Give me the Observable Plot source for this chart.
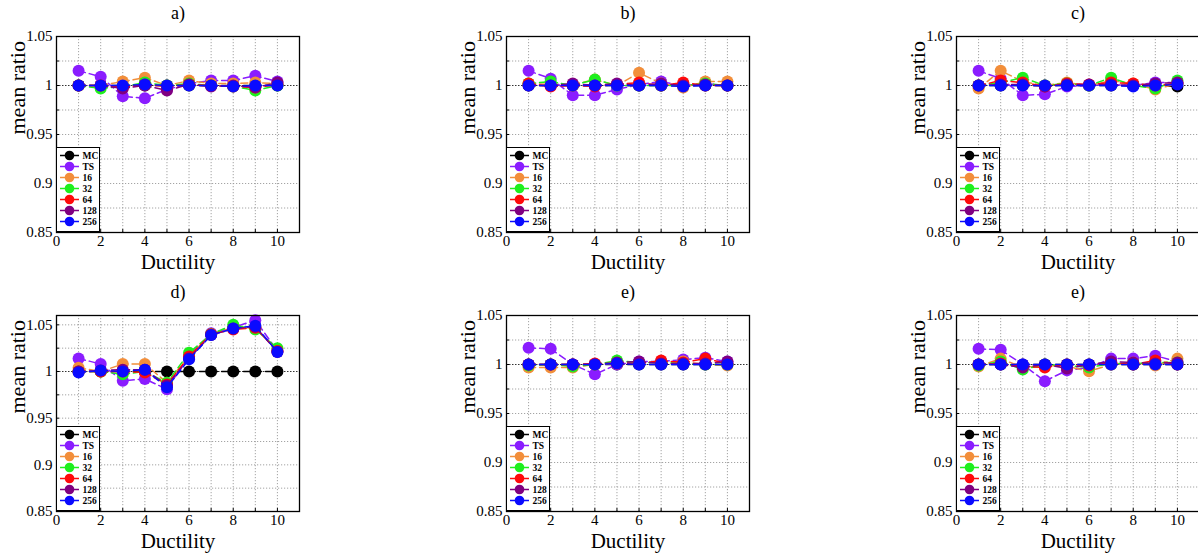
<!DOCTYPE html>
<html><head><meta charset="utf-8">
<script src="https://cdn.jsdelivr.net/npm/d3@7"></script>
<script src="https://cdn.jsdelivr.net/npm/@observablehq/plot@0.6"></script>
<style>
html,body{margin:0;padding:0;background:#fff;}
#root{position:relative;width:1198px;height:554px;overflow:hidden;background:#fff;}
.panel{position:absolute;width:311px;height:276px;}
.panel svg, .legend svg{max-width:none !important;}
svg text{font-family:"Liberation Serif","DejaVu Serif","Noto Serif","Times New Roman",Times,serif !important;}
.legend{position:absolute;width:44px;height:85px;border:1.5px solid #000;box-sizing:border-box;background:#fff;}
</style></head><body><div id="root"></div>
<script>
const ductility = [1,2,3,4,5,6,7,8,9,10];
const seriesNames = ["MC","TS","16","32","64","128","256"];
const seriesColors = ["#000000","#8A1CFF","#F28E3A","#1EEF1E","#FF0A0A","#800080","#0A0AFF"];
const panelTitles = ["a)","b)","c)","d)","e)","e)"];
const xTickLabels = [0,2,4,6,8,10];
const yTickLabels = [0.85,0.9,0.95,1,1.05];

// panel a
const aMC  = [1,1,1,1,1,1,1,1,1,1];
const aTS  = [1.015,1.009,0.989,0.987,0.996,1.002,1.005,1.005,1.010,1.004];
const a16  = [1.000,1.000,1.004,1.008,1.000,1.005,1.002,1.002,1.003,1.002];
const a32  = [1.000,0.997,0.999,1.003,1.000,1.002,1.000,0.999,0.995,1.000];
const a64  = [1.000,1.000,0.998,1.001,0.999,1.001,1.000,0.999,0.998,1.001];
const a128 = [1.000,1.000,0.997,1.000,0.995,1.001,0.999,1.000,0.998,1.003];
const a256 = [1.000,1.000,1.000,1.001,1.000,1.000,1.000,0.999,1.000,1.000];
// panel b
const bMC  = [1,1,1,1,1,1,1,1,1,1];
const bTS  = [1.015,1.007,0.990,0.990,0.996,1.001,1.004,1.000,1.002,1.000];
const b16  = [1.002,1.001,1.001,1.006,1.000,1.013,1.002,0.998,1.004,1.004];
const b32  = [1.002,1.004,1.000,1.006,1.000,1.000,1.000,1.000,1.002,1.000];
const b64  = [1.002,0.999,1.000,0.999,1.001,1.003,1.000,1.003,1.000,1.000];
const b128 = [1.000,1.000,1.002,1.000,1.002,1.000,1.002,1.000,1.001,1.000];
const b256 = [1.000,1.000,1.000,1.000,1.000,1.000,1.000,0.999,1.000,1.000];
// panel c
const cMC  = [1,1,1,1,1,1,1,1,1,0.999];
const cTS  = [1.015,1.007,0.990,0.991,0.999,1.000,1.001,1.000,1.003,1.003];
const c16  = [0.997,1.015,1.004,1.000,1.003,1.000,1.005,1.002,0.996,1.002];
const c32  = [1.000,1.003,1.008,1.000,1.002,1.000,1.008,1.000,0.997,1.005];
const c64  = [1.000,1.005,1.003,0.999,1.002,1.001,1.003,1.002,1.000,1.002];
const c128 = [1.000,1.001,1.001,0.999,1.001,1.001,1.001,1.000,1.002,1.003];
const c256 = [1.000,1.000,1.000,1.000,1.000,1.000,1.000,0.999,1.000,1.001];
// panel d
const dMC  = [1,1,1,1,1,1,1,1,1,1];
const dTS  = [1.014,1.008,0.990,0.992,0.981,1.017,1.041,1.047,1.055,1.022];
const d16  = [1.004,1.000,1.008,1.008,0.988,1.016,1.040,1.047,1.047,1.022];
const d32  = [1.000,1.000,0.997,1.000,0.988,1.020,1.040,1.050,1.045,1.025];
const d64  = [1.000,1.000,1.000,0.999,0.986,1.016,1.040,1.045,1.047,1.022];
const d128 = [1.000,1.001,1.002,1.002,0.985,1.014,1.039,1.046,1.048,1.021];
const d256 = [0.999,1.001,1.000,1.002,0.983,1.013,1.039,1.046,1.049,1.021];
// panel e
const eMC  = [1,1,1,1,1,1,1,1,1,1];
const eTS  = [1.017,1.016,1.000,0.990,1.000,1.003,1.003,1.005,1.007,1.003];
const e16  = [0.997,0.997,0.997,1.000,1.001,1.002,1.002,1.003,1.000,0.999];
const e32  = [0.999,1.000,0.998,1.000,1.004,1.002,1.002,1.001,1.000,1.000];
const e64  = [1.000,1.000,1.000,1.001,1.001,1.001,1.004,1.002,1.006,1.001];
const e128 = [1.000,1.000,1.000,1.000,1.002,1.003,1.001,1.001,1.001,1.003];
const e256 = [1.000,1.000,1.000,1.000,1.001,1.000,1.000,1.000,1.000,1.000];
// panel f (second "e)")
const fMC  = [1,1,1,1,1,1,1,1,1,1];
const fTS  = [1.016,1.015,1.000,0.983,0.994,0.997,1.006,1.006,1.009,1.003];
const f16  = [0.998,1.006,0.997,0.999,0.998,0.993,1.000,1.002,0.999,1.006];
const f32  = [0.999,1.003,0.995,1.000,0.999,0.997,1.001,1.001,1.002,1.002];
const f64  = [1.000,1.001,0.998,0.997,1.000,0.999,1.002,1.000,1.004,1.000];
const f128 = [1.000,1.000,0.997,1.000,0.996,1.000,1.003,1.002,1.001,1.002];
const f256 = [1.000,1.000,1.000,1.000,1.000,1.000,1.000,1.000,1.000,1.000];

const panelSeries = [
  [aMC,aTS,a16,a32,a64,a128,a256],
  [bMC,bTS,b16,b32,b64,b128,b256],
  [cMC,cTS,c16,c32,c64,c128,c256],
  [dMC,dTS,d16,d32,d64,d128,d256],
  [eMC,eTS,e16,e32,e64,e128,e256],
  [fMC,fTS,f16,f32,f64,f128,f256]
];
const yTops = [1.05,1.05,1.05,1.06,1.05,1.05];

const FONT = '"Liberation Serif","DejaVu Serif","Noto Serif","Times New Roman",Times,serif';
const root = document.getElementById("root");
const fmt = d => String(+(+d).toFixed(3));

panelSeries.forEach((vals, pi) => {
  const col = pi % 3, row = Math.floor(pi / 3);
  const left = col * 450, top = row === 0 ? 0 : 279;
  const rows = [];
  seriesNames.forEach((s, si) => vals[si].forEach((v, i) => rows.push({series: s, x: ductility[i], y: v})));
  const yGrid = d3.range(0.875, yTops[pi] + 1e-9, 0.025).map(v => +v.toFixed(3)).filter(v => Math.abs(v - 1) > 1e-9 && v < yTops[pi] - 1e-9);
  const yMinor = d3.range(0.85, yTops[pi] + 1e-9, 0.025).map(v => +v.toFixed(3));
  const marks = [
    Plot.gridX(d3.range(1, 11), {stroke: "#9a9a9a", strokeOpacity: 1, strokeDasharray: "1.2,1.8", strokeWidth: 0.9}),
    Plot.gridY(yGrid, {stroke: "#9a9a9a", strokeOpacity: 1, strokeDasharray: "1.2,1.8", strokeWidth: 0.9}),
    Plot.gridY([1], {stroke: "#333", strokeOpacity: 1, strokeDasharray: "1.5,1.5", strokeWidth: 1})
  ];
  seriesNames.forEach((s, si) => {
    const data = rows.filter(d => d.series === s);
    marks.push(Plot.line(data, {x: "x", y: "y", stroke: seriesColors[si], strokeWidth: 1.5, strokeDasharray: "7,4"}));
    marks.push(Plot.dot(data, {x: "x", y: "y", r: 6, fill: seriesColors[si], stroke: "none"}));
  });
  marks.push(
    Plot.axisX({ticks: d3.range(0, 12), tickSize: -3, tickFormat: () => "", label: null}),
    Plot.axisY({ticks: yMinor, tickSize: -3, tickFormat: () => "", label: null}),
    Plot.axisX({ticks: xTickLabels, tickSize: 0, tickPadding: 3, fontSize: 15, fontFamily: FONT, label: null, tickFormat: fmt}),
    Plot.axisY({ticks: yTickLabels, tickSize: 0, tickPadding: 4, fontSize: 15, fontFamily: FONT, label: null, tickFormat: fmt}),
    Plot.frame({stroke: "#000", strokeWidth: 1.3}),
    Plot.text([panelTitles[pi]], {text: d => d, frameAnchor: "top", dy: -23, fontSize: 18, fontFamily: FONT, lineAnchor: "middle"}),
    Plot.text(["Ductility"], {text: d => d, frameAnchor: "bottom", dy: 30, fontSize: 21, fontFamily: FONT, lineAnchor: "middle"}),
    Plot.text(["mean ratio"], {text: d => d, frameAnchor: "left", dx: -39, rotate: -90, fontSize: 22, fontFamily: FONT, lineAnchor: "middle"})
  );
  const chart = Plot.plot({
    width: 311, height: 276,
    marginLeft: 56, marginRight: 12, marginTop: 36, marginBottom: 44,
    x: {domain: [0, 11]},
    y: {domain: [0.85, yTops[pi]]},
    style: {fontFamily: FONT, fontSize: "15px", background: "transparent", color: "#000", overflow: "visible", maxWidth: "none"},
    marks
  });
  const div = document.createElement("div");
  div.className = "panel";
  div.style.left = left + "px";
  div.style.top = top + "px";
  div.appendChild(chart);
  root.appendChild(div);

  // legend
  const legRows = seriesNames.map((s, si) => ({name: s, color: seriesColors[si]}));
  const leg = Plot.plot({
    width: 41, height: 82,
    marginTop: 5, marginBottom: 7, marginLeft: 0, marginRight: 0,
    x: {axis: null}, y: {type: "point", domain: seriesNames, padding: 0, axis: null},
    style: {fontFamily: FONT, background: "transparent", overflow: "visible", maxWidth: "none"},
    marks: [
      Plot.ruleY(legRows, {y: "name", stroke: "color", strokeWidth: 1.5, insetLeft: 3, insetRight: 19}),
      Plot.dot(legRows, {y: "name", fill: "color", r: 4.8, frameAnchor: "left", dx: 12}),
      Plot.text(legRows, {y: "name", text: "name", frameAnchor: "left", dx: 25, textAnchor: "start", fontSize: 9.5, fontWeight: "bold", fontFamily: FONT, fill: "#000"})
    ]
  });
  const ld = document.createElement("div");
  ld.className = "legend";
  ld.style.left = (left + 56) + "px";
  ld.style.top = (top + 36 + 196 - 85) + "px";
  ld.appendChild(leg);
  root.appendChild(ld);
});
</script></body></html>
